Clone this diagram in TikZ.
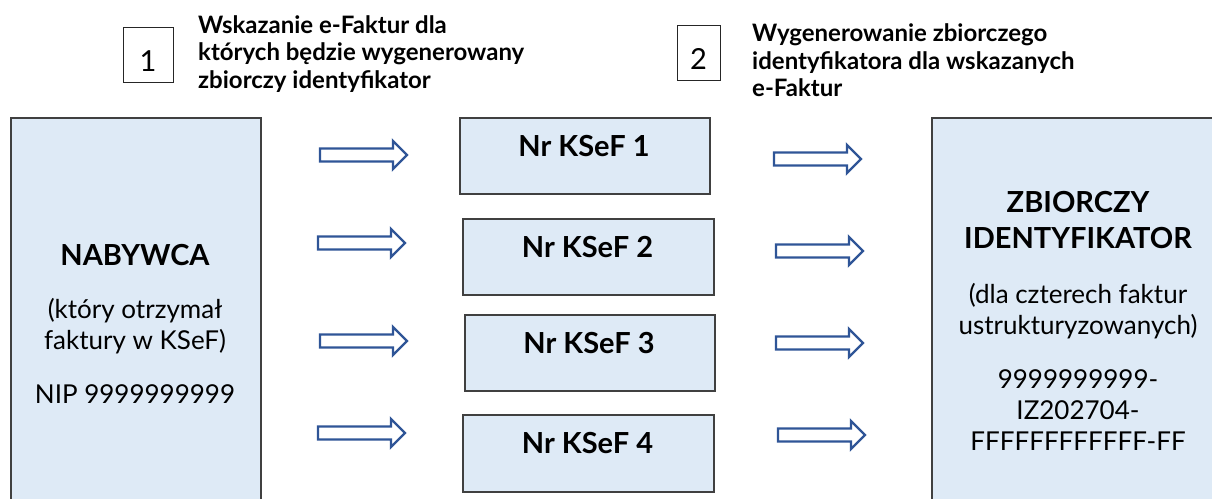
\documentclass[tikz,border=0pt]{standalone}
\usepackage{fontspec}
\setmainfont{Lato}
\definecolor{boxfill}{RGB}{222,234,246}
\definecolor{boxline}{RGB}{64,64,64}
\definecolor{arrowblue}{RGB}{47,85,151}
\begin{document}
\begin{tikzpicture}[x=1pt,y=-1pt,
  mainbox/.style={draw=boxline,line width=1.6pt,fill=boxfill,rectangle,inner sep=0pt,anchor=north west},
  numbox/.style={draw=black!85,line width=1pt,rectangle,inner sep=0pt,anchor=north west},
  numtext/.style={anchor=base,inner sep=0pt,font=\fontsize{29}{35}\selectfont},
  blockarrow/.style={draw=arrowblue,line width=2.4pt,fill=white,line join=miter},
  bigbold/.style={anchor=base,inner sep=0pt,font=\fontsize{29}{35}\selectfont\bfseries},
  body/.style={anchor=base,inner sep=0pt,font=\fontsize{26}{31}\selectfont},
  title/.style={anchor=base west,inner sep=0pt,font=\fontsize{24}{28}\selectfont\bfseries}]
\useasboundingbox (0,0) rectangle (1212,498);
\clip (0,0) rectangle (1212,498);
% number boxes and titles
\node[numbox,minimum width=50pt,minimum height=55pt] (n1) at (123,27) {};
\node[numtext] (n1t) at (148,71) {1};
\node[title] (t1a) at (198,33) {Wskazanie e-Faktur dla};
\node[title] (t1b) at (198,60.5) {których będzie wygenerowany};
\node[title] (t1c) at (198,88) {zbiorczy identyfikator};
\node[numbox,minimum width=43pt,minimum height=55pt] (n2) at (677,25) {};
\node[numtext] (n2t) at (698.5,69) {2};
\node[title] (t2a) at (752,41.5) {Wygenerowanie zbiorczego};
\node[title] (t2b) at (752,69) {identyfikatora dla wskazanych};
\node[title] (t2c) at (752,96.5) {e-Faktur};
% left box
\node[mainbox,minimum width=250pt,minimum height=420pt] (nab) at (10,117) {};
\node[bigbold] (nabt) at (135,265) {NABYWCA};
\node[body] (nab1) at (135,318) {(który otrzymał};
\node[body] (nab2) at (135,349) {faktury w KSeF)};
\node[body] (nab3) at (135,403) {NIP 9999999999};
% middle boxes
\node[mainbox,minimum width=250pt,minimum height=76pt] (k1) at (459,117) {};
\node[bigbold] (k1t) at (584,156) {Nr KSeF 1};
\node[mainbox,minimum width=251pt,minimum height=76pt] (k2) at (462,218) {};
\node[bigbold] (k2t) at (587.5,257) {Nr KSeF 2};
\node[mainbox,minimum width=250pt,minimum height=76pt] (k3) at (464,314) {};
\node[bigbold] (k3t) at (589,353) {Nr KSeF 3};
\node[mainbox,minimum width=251pt,minimum height=77pt] (k4) at (462,414) {};
\node[bigbold] (k4t) at (587.5,453) {Nr KSeF 4};
% right box
\node[mainbox,minimum width=300pt,minimum height=420pt] (zb) at (931,117) {};
\node[bigbold] (zb1) at (1078,212) {ZBIORCZY};
\node[bigbold] (zb2) at (1078,248) {IDENTYFIKATOR};
\node[body] (zb3) at (1078,303) {(dla czterech faktur};
\node[body] (zb4) at (1078,334) {ustrukturyzowanych)};
\node[body] (zb5) at (1078,388) {9999999999-};
\node[body] (zb6) at (1078,419) {IZ202704-};
\node[body] (zb7) at (1078,450) {FFFFFFFFFFFF-FF};
% arrow tails
\coordinate (a1) at (320,155);
\coordinate (a2) at (318,243);
\coordinate (a3) at (320,341);
\coordinate (a4) at (318,433);
\coordinate (b1) at (774,159);
\coordinate (b2) at (776,251);
\coordinate (b3) at (776,343);
\coordinate (b4) at (778,435);
\foreach \p in {a1,a2,a3,a4,b1,b2,b3,b4}{
  \draw[blockarrow] (\p) ++(0,-6.5) -- ++(73,0) -- ++(0,-7.5) -- ++(14,14)
     -- ++(-14,14) -- ++(0,-7.5) -- ++(-73,0) -- cycle;
}
\end{tikzpicture}
\end{document}
